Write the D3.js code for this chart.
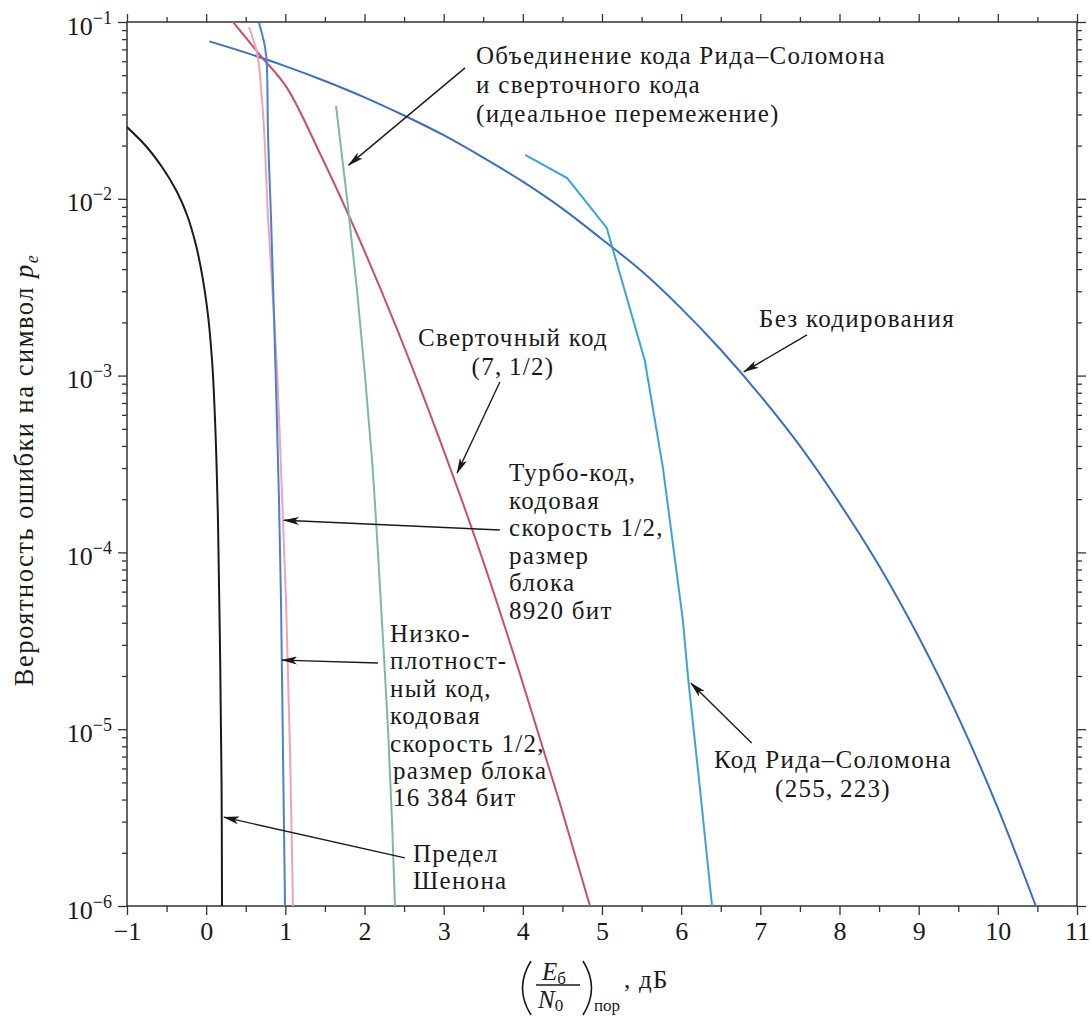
<!DOCTYPE html>
<html>
<head>
<meta charset="utf-8">
<style>
body { margin: 0; background: #fff; }
svg, svg text { font-family: 'Liberation Serif', 'DejaVu Serif', 'Noto Serif', 'Times New Roman', serif; }
.lbl { font-size: 25px; letter-spacing: 1.3px; fill: #1a1a1a; }
.tick line { stroke: #333; stroke-width: 1.3; }
</style>
</head>
<body>
<script src="https://cdn.jsdelivr.net/npm/d3@7"></script>
<script>
// ---- data (x in dB, p = symbol error probability) ----
const shannonX = [-1, -0.773, -0.558, -0.381, -0.242, -0.129, -0.04, 0.023, 0.074, 0.112, 0.149, 0.175, 0.194, 0.2];
const shannonP = [0.02547, 0.02015, 0.01513, 0.01121, 0.0081, 0.00548, 0.00347, 0.0022, 1.225e-3, 5.61e-4,
                  1.525e-4, 2.8e-5, 5.16e-6, 1e-6];

const ldpcX = [0.667, 0.743, 0.768, 0.781, 0.819, 0.869, 0.92, 0.945, 0.97, 0.996];
const ldpcP = [0.0987, 0.0723, 0.0556, 0.0236, 0.00788, 1.4e-3, 1.98e-4, 5.4e-5, 7.6e-6, 1e-6];

const turboX = [0.541, 0.642, 0.705, 0.781, 0.882, 0.97, 1.008, 1.059, 1.097];
const turboP = [0.0937, 0.0668, 0.0362, 0.00788, 1.4e-3, 1.52e-4, 5.4e-5, 7.6e-6, 1e-6];

const concatX = [1.64, 1.78, 1.905, 2.006, 2.095, 2.17, 2.234, 2.297, 2.347, 2.385];
const concatP = [0.0335, 0.01, 3.05e-3, 1e-3, 3.33e-4, 1e-4, 3.2e-5, 1e-5, 3.06e-6, 1e-6];

const convX = [0.339, 0.68, 1.021, 1.438, 1.943, 2.448, 2.953, 3.463, 3.964, 4.469, 4.848];
const convP = [0.1, 0.065, 0.0424, 0.01803, 0.00579, 1.667e-3, 4.3e-4, 9.93e-5, 2.05e-5, 3.8e-6, 1e-6];

const rsX = [4.03, 4.56, 5.06, 5.54, 5.77, 6.02, 6.09, 6.24, 6.39];
const rsP = [0.0177, 0.0131, 0.00684, 0.00122, 3.0e-4, 4.2e-5, 1.9e-5, 4.5e-6, 1e-6];

const uncodedX = [0.04, 0.5, 1, 1.5, 2, 2.5, 3, 3.5, 4, 4.5, 5, 5.5, 6, 6.5, 7, 7.5, 8, 8.5, 9, 9.5, 10, 10.48];
const uncodedP = [0.0777, 0.0671, 0.0563, 0.0464, 0.0375, 0.0296, 0.0229, 0.0171, 0.0125, 0.0088, 0.0059, 0.0039,
                  0.0024, 0.0014, 7.7e-4, 4.0e-4, 1.9e-4, 8.4e-5, 3.32e-5, 1.17e-5, 3.58e-6, 1e-6];

const xTicks = [-1, 0, 1, 2, 3, 4, 5, 6, 7, 8, 9, 10, 11];
const xMinorTicks = [-0.5, 0.5, 1.5, 2.5, 3.5, 4.5, 5.5, 6.5, 7.5, 8.5, 9.5, 10.5];
const yTicks = [1e-6, 1e-5, 1e-4, 1e-3, 1e-2, 1e-1];
const yTickExp = ["−6", "−5", "−4", "−3", "−2", "−1"];

// arrows: [from x, from p, to x, to p]
const arrows = [
    [3.27, 0.055, 1.80, 0.0155],
    [3.71, 9.2e-4, 3.17, 2.81e-4],
    [3.71, 1.34e-4, 0.983, 1.52e-4],
    [2.17, 2.37e-5, 0.958, 2.46e-5],
    [2.51, 1.87e-6, 0.225, 3.18e-6],
    [6.89, 8.36e-6, 6.124, 1.82e-5],
    [7.59, 1.70e-3, 6.793, 1.05e-3]
];

const FONT = "'Liberation Serif', 'DejaVu Serif', 'Noto Serif', 'Times New Roman', serif";

// ---- chart ----
const W = 1092, H = 1016;
const x = d3.scaleLinear().domain([-1, 11]).range([127, 1077]);
const y = d3.scaleLog().domain([1e-6, 1e-1]).range([906, 22]);

const svg = d3.select('body').append('svg').attr('width', W).attr('height', H)
    .attr('font-family', FONT);
const defs = svg.append('defs');
defs.append('clipPath').attr('id', 'plot')
    .append('rect').attr('x', 127).attr('y', 22).attr('width', 950).attr('height', 884);
defs.append('marker').attr('id', 'arr')
    .attr('viewBox', '0 0 16 8').attr('refX', 15).attr('refY', 4)
    .attr('markerWidth', 16).attr('markerHeight', 8)
    .attr('markerUnits', 'userSpaceOnUse').attr('orient', 'auto')
  .append('path').attr('d', 'M0,0 L16,4 L0,8 L4,4 Z').attr('fill', '#1a1a1a');

const minorY = [];
yTicks.slice(0, -1).forEach(d => { for (let k = 2; k <= 9; k++) minorY.push(d * k); });

function axis(gen, ticks, size, tx, ty) {
    const g = svg.append('g').attr('transform', `translate(${tx},${ty})`)
        .call(gen.tickValues(ticks).tickSize(size).tickSizeOuter(0));
    g.select('.domain').remove();
    g.attr('font-family', FONT).attr('font-size', 26);
    return g;
}

// bottom
const gx = axis(d3.axisBottom(x).tickFormat(d3.format('d')), xTicks, 9, 0, 906);
gx.selectAll('text').attr('y', 34).attr('dy', 0).attr('fill', '#1a1a1a');
axis(d3.axisBottom(x).tickFormat(''), xMinorTicks, 6, 0, 906);
// top
axis(d3.axisTop(x).tickFormat(''), xTicks, 8, 0, 22);
axis(d3.axisTop(x).tickFormat(''), xMinorTicks, 5, 0, 22);
// left
const gy = axis(d3.axisLeft(y).tickFormat(''), yTicks, 9, 127, 0);
axis(d3.axisLeft(y).tickFormat(''), minorY, 5, 127, 0);
// right
axis(d3.axisRight(y).tickFormat(''), yTicks, 9, 1077, 0);
axis(d3.axisRight(y).tickFormat(''), minorY, 5, 1077, 0);

gy.selectAll('.tick').each(function (d, i) {
    const t = d3.select(this).append('text').attr('x', -15).attr('y', 12)
        .attr('text-anchor', 'end').attr('fill', '#1a1a1a');
    t.append('tspan').text('10');
    t.append('tspan').attr('dy', -11).attr('font-size', 18).text(yTickExp[i]);
});

svg.append('rect').attr('x', 127).attr('y', 22).attr('width', 950).attr('height', 884)
    .attr('fill', 'none').attr('stroke', '#333').attr('stroke-width', 1.5);

// curves
const series = [
    {xs: uncodedX, ps: uncodedP, color: '#3a6fc0', curve: d3.curveMonotoneX},
    {xs: rsX, ps: rsP, color: '#3ba3da', curve: d3.curveLinear},
    {xs: convX, ps: convP, color: '#c9506a', curve: d3.curveMonotoneX},
    {xs: concatX, ps: concatP, color: '#7fb9a3', curve: d3.curveMonotoneY},
    {xs: turboX, ps: turboP, color: '#f0a3b5', curve: d3.curveMonotoneY},
    {xs: ldpcX, ps: ldpcP, color: '#4a80d0', curve: d3.curveMonotoneY},
    {xs: shannonX, ps: shannonP, color: '#1a1a1a', curve: d3.curveMonotoneY}
];
const plot = svg.append('g').attr('clip-path', 'url(#plot)');
series.forEach(s => {
    const line = d3.line().x(d => x(d[0])).y(d => y(d[1])).curve(s.curve);
    plot.append('path')
        .datum(s.xs.map((v, i) => [v, s.ps[i]]))
        .attr('d', line)
        .attr('fill', 'none').attr('stroke', s.color).attr('stroke-width', 2);
});

// arrows
svg.append('g').selectAll('line').data(arrows).join('line')
    .attr('x1', d => x(d[0])).attr('y1', d => y(d[1]))
    .attr('x2', d => x(d[2])).attr('y2', d => y(d[3]))
    .attr('stroke', '#1a1a1a').attr('stroke-width', 1.4)
    .attr('marker-end', 'url(#arr)');

// labels
function block(lines, x0, y0, step, anchor) {
    const t = svg.append('text').attr('class', 'lbl').attr('font-family', FONT)
        .attr('text-anchor', anchor || 'start');
    lines.forEach((s, i) => t.append('tspan').attr('x', x0).attr('y', y0 + i * step).text(s));
}
block(['Объединение кода Рида–Соломона', 'и сверточного кода', '(идеальное перемежение)'], 476, 64, 29);
block(['Сверточный код', '(7,\u20091/2)'], 513, 346, 29, 'middle');
block(['Турбо-код,', 'кодовая', 'скорость 1/2,', 'размер', 'блока', '8920 бит'], 509, 481, 27.5);
block(['Низко-', 'плотност-', 'ный код,', 'кодовая', 'скорость 1/2,'], 390, 642, 27.4);
block(['размер блока', '16\u2009384 бит'], 393, 779, 27.4);
block(['Предел', 'Шенона'], 413, 862, 27);
block(['Код Рида–Соломона', '(255,\u2009223)'], 833, 768, 29, 'middle');
block(['Без кодирования'], 759, 327, 0);

// y title
const yt = svg.append('text').attr('class', 'lbl').attr('font-family', FONT)
    .style('font-size', '26.5px').style('letter-spacing', '1.5px')
    .attr('transform', 'translate(33,470) rotate(-90)').attr('text-anchor', 'middle');
yt.append('tspan').text('Вероятность ошибки на символ ');
yt.append('tspan').attr('font-style', 'italic').text('p');
yt.append('tspan').attr('dy', 5).style('font-size', '18px').attr('font-style', 'italic').text('e');

// x title
const xt = svg.append('g').attr('fill', '#1a1a1a').attr('font-family', FONT);
xt.append('path').attr('d', 'M531,961 Q514,988 531,1015').attr('fill', 'none').attr('stroke', '#1a1a1a').attr('stroke-width', 1.6);
xt.append('path').attr('d', 'M583,961 Q600,988 583,1015').attr('fill', 'none').attr('stroke', '#1a1a1a').attr('stroke-width', 1.6);
const e = xt.append('text').attr('x', 542).attr('y', 980).attr('font-size', 25);
e.append('tspan').attr('font-style', 'italic').text('E');
e.append('tspan').attr('dy', 4).attr('font-size', 17).text('б');
xt.append('line').attr('x1', 536).attr('x2', 580).attr('y1', 985).attr('y2', 985).attr('stroke', '#1a1a1a').attr('stroke-width', 1.3);
const n = xt.append('text').attr('x', 538).attr('y', 1008).attr('font-size', 25);
n.append('tspan').attr('font-style', 'italic').text('N');
n.append('tspan').attr('dy', 3).attr('font-size', 17).text('0');
xt.append('text').attr('x', 594).attr('y', 1011).attr('font-size', 17).text('пор');
xt.append('text').attr('class', 'lbl').attr('x', 624).attr('y', 988).text(', дБ');
</script>
</body>
</html>
